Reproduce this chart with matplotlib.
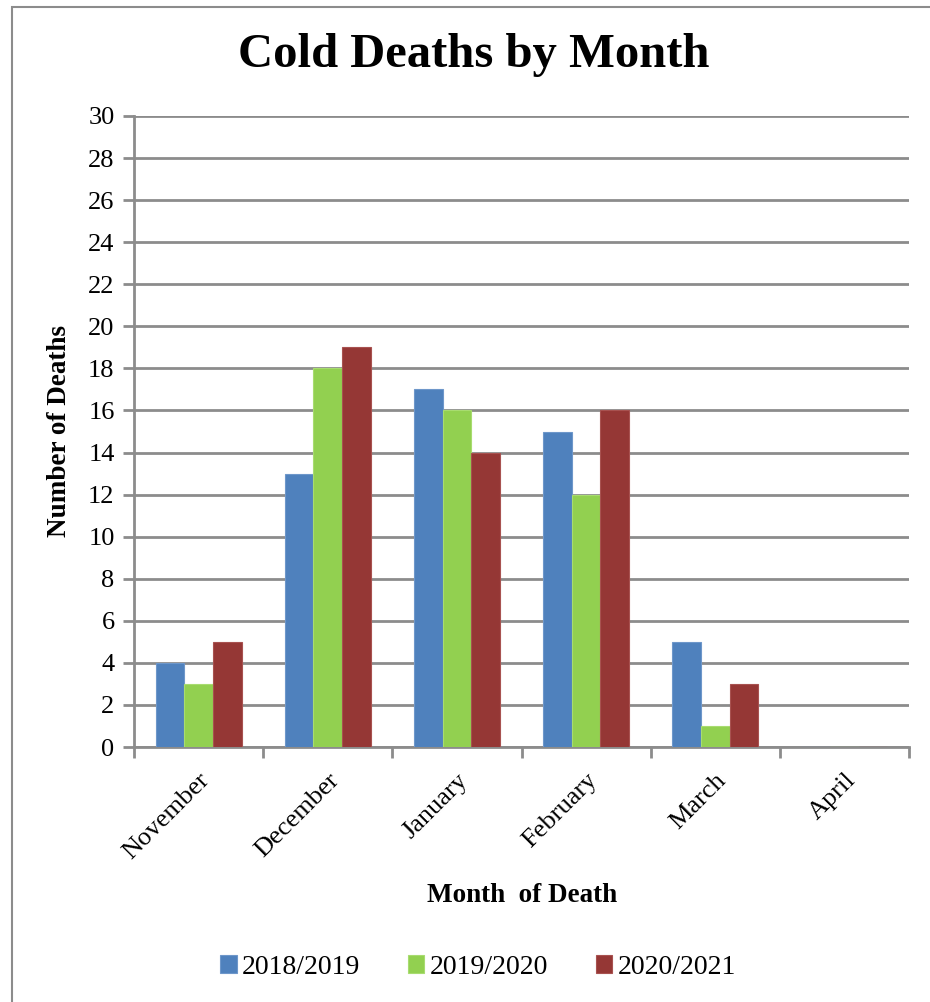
import matplotlib.pyplot as plt
import numpy as np
from matplotlib.patches import Rectangle

months = ["November", "December", "January", "February", "March", "April"]
seasons = ["2018/2019", "2019/2020", "2020/2021"]
deaths_1819 = [4, 13, 17, 15, 5, 0]
deaths_1920 = [3, 18, 16, 12, 1, 0]
deaths_2021 = [5, 19, 14, 16, 3, 0]
colors = ["#4F81BD", "#92D050", "#953735"]
edges = ["#6E97CA", "#A8DC70", "#A85250"]

plt.rcParams['font.family'] = ['Liberation Serif', 'DejaVu Serif']
grid_col = "#8C8C8C"

fig = plt.figure(figsize=(9.3, 10.02), dpi=100)
ax = fig.add_axes([134 / 930, 1 - 747 / 1002, 775 / 930, 631 / 1002])

x = np.arange(len(months))
w = 1 / 4.5
for i, vals in enumerate([deaths_1819, deaths_1920, deaths_2021]):
    ax.bar(x + (i - 1) * w, vals, width=w, color=colors[i], edgecolor=edges[i],
           linewidth=0.8, label=seasons[i], zorder=3)

ax.set_xlim(-0.5, len(months) - 0.5)
ax.set_ylim(0, 30)
ax.set_yticks(range(0, 31, 2))
ax.yaxis.grid(True, color=grid_col, linewidth=2, zorder=0)
ax.tick_params(axis='y', labelsize=19, length=8, width=2, color=grid_col, pad=6, direction='out')

# category boundary ticks
ax.set_xticks(np.arange(-0.5, len(months), 1))
ax.set_xticklabels([])
ax.tick_params(axis='x', length=8, width=2, color=grid_col, direction='out')
ax.set_xticks(x, minor=True)
ax.set_xticklabels(months, minor=True, rotation=45, ha='right', va='top',
                   rotation_mode='anchor', fontsize=19)
ax.tick_params(axis='x', which='minor', length=0, pad=16)

for s in ['top', 'right']:
    ax.spines[s].set_visible(False)
for s in ['left', 'bottom']:
    ax.spines[s].set_color(grid_col)
    ax.spines[s].set_linewidth(2)

fig.text(474 / 930, 1 - 55 / 1002, "Cold Deaths by Month", ha='center', va='center',
         fontsize=35, fontweight='bold')
fig.text(60 / 930, 1 - 431 / 1002, "Number of Deaths", ha='center', va='center',
         rotation=90, fontsize=19.5, fontweight='bold')
fig.text(522 / 930, 1 - 895 / 1002, "Month  of Death", ha='center', va='center',
         fontsize=19.5, fontweight='bold')

fig.legend(loc='center', bbox_to_anchor=(478 / 930, 1 - 967 / 1002), ncol=3,
           frameon=False, fontsize=20, handlelength=0.6, handleheight=0.6,
           handletextpad=0.2, columnspacing=1.7)

fig.add_artist(Rectangle((12 / 930, -0.01), 0.99, 1 - 7 / 1002 + 0.01,
                         transform=fig.transFigure, fill=False,
                         edgecolor="#8C8C8C", linewidth=1.5))

fig.savefig("out.png", dpi=100)
